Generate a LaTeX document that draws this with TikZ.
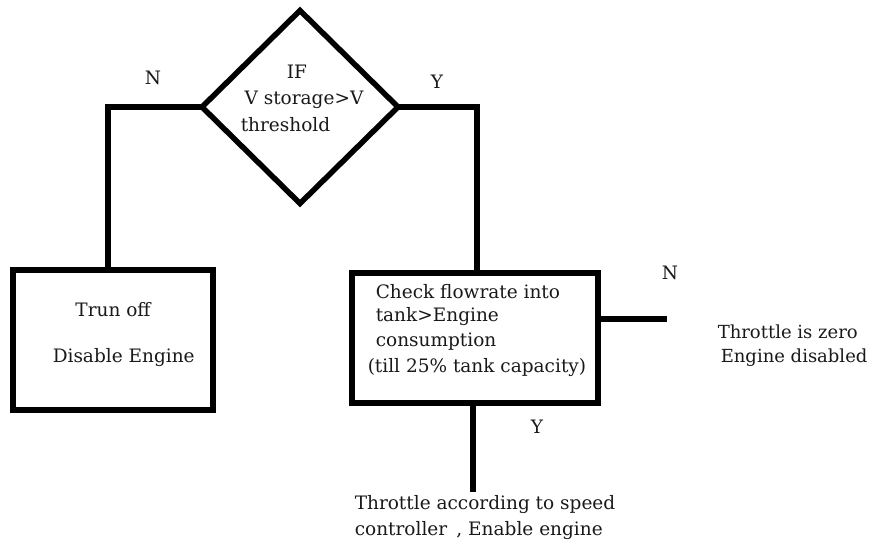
\documentclass[tikz,border=0pt]{standalone}
\usepackage{fontspec}
\setmainfont{DejaVu Serif}
\usetikzlibrary{shapes.geometric}
\begin{document}
\begin{tikzpicture}[x=1pt,y=-1pt,line width=5.5pt,
  txt/.style={font=\fontsize{18.5}{22}\selectfont,inner sep=0pt,text=black!90},
  boxshape/.style={draw,rectangle,inner sep=0pt,outer sep=0pt}]
\useasboundingbox (0,0) rectangle (874,545);
% decision
\node[draw,diamond,minimum width=196pt,minimum height=193pt,inner sep=0pt,outer sep=0pt] (dia) at (300,107) {};
\node[txt] (t1) at (297,72) {IF};
\node[txt] (t2) at (304,100) {V storage>V};
\node[txt,anchor=west] (t3) at (238,125) {threshold};
% left box
\node[boxshape,minimum width=200pt,minimum height=140pt] (lbox) at (113,340) {};
\node[txt] (l1) at (113,310) {Trun off};
\node[txt,anchor=west] (l2) at (50,358) {Disable Engine};
% right box
\node[boxshape,minimum width=246pt,minimum height=130pt] (rbox) at (475,338) {};
\node[txt,anchor=west] (r1) at (373,292) {Check flowrate into};
\node[txt,anchor=west] (r2) at (373,317) {tank>Engine};
\node[txt,anchor=west] (r3) at (373,342) {consumption};
\node[txt,anchor=west] (r4) at (365,368) {(till 25\% tank capacity)};
% outcomes
\node[txt,anchor=west,font=\fontsize{18}{22}\selectfont] (z1) at (715,332) {Throttle is zero};
\node[txt,anchor=west,font=\fontsize{18}{22}\selectfont] (z2) at (718,358) {Engine disabled};
\node[txt,anchor=west] (s1) at (352,505) {Throttle according to speed};
\node[txt,anchor=west] (s2) at (352,531) {controller\enspace, Enable engine};
% labels
\node[txt] (nA) at (153,78) {N};
\node[txt] (yA) at (437,82) {Y};
\node[txt] (nB) at (670,273) {N};
\node[txt] (yB) at (537,427) {Y};
% connectors
\coordinate (cl) at (108,107);
\coordinate (cr) at (477,107);
\coordinate (sa) at (598,319);
\coordinate (sb) at (667,319);
\coordinate (ba) at (473,403);
\coordinate (bb) at (473,492);
\draw (dia.west) -- (cl) -- (cl |- lbox.north);
\draw (dia.east) -- (cr) -- (cr |- rbox.north);
\draw (sa) -- (sb);
\draw (ba) -- (bb);
\end{tikzpicture}
\end{document}
